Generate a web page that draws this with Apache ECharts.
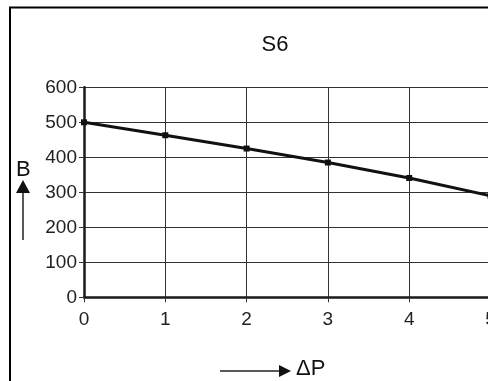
<!DOCTYPE html>
<html>
<head>
<meta charset="utf-8">
<script src="https://cdn.jsdelivr.net/npm/echarts@6/dist/echarts.min.js"></script>
<style>
  html, body { margin: 0; padding: 0; background: #fff; overflow: hidden; }
  #chart { width: 488px; height: 381px; }
</style>
</head>
<body>
<div id="chart"></div>
<script>
// Pressure difference ΔP against B for curve S6
const title = 'S6';
const deltaP = [0, 1, 2, 3, 4, 5];
const bValues = [500, 463, 425, 385, 341, 290];
const yTicks = [0, 100, 200, 300, 400, 500, 600];

const FONT = '"Liberation Sans", Arial, sans-serif';
const chart = echarts.init(document.getElementById('chart'), null, { renderer: 'canvas' });

chart.setOption({
  backgroundColor: '#fff',
  animation: false,
  title: {
    text: title,
    left: 270,
    top: 29,
    textAlign: 'center',
    textStyle: { fontFamily: FONT, fontSize: 22, fontWeight: 'normal', color: '#111' }
  },
  grid: {
    left: 84, top: 87.3, width: 406.5, height: 210,
    containLabel: false,
    outerBoundsMode: 'none'
  },
  xAxis: {
    type: 'value',
    min: 0, max: 5, interval: 1,
    axisLine: { show: true, onZero: false, lineStyle: { color: '#1a1a1a', width: 2.5 } },
    axisTick: { show: true, length: 5, lineStyle: { color: '#333', width: 1 } },
    axisLabel: { fontFamily: FONT, fontSize: 19, color: '#222', margin: 13, showMaxLabel: true },
    splitLine: { show: true, lineStyle: { color: '#333', width: 1 } }
  },
  yAxis: {
    type: 'value',
    min: yTicks[0], max: yTicks[yTicks.length - 1], interval: 100,
    axisLine: { show: true, onZero: false, lineStyle: { color: '#1a1a1a', width: 2.5 } },
    axisTick: { show: true, length: 5, lineStyle: { color: '#333', width: 1 } },
    axisLabel: { fontFamily: FONT, fontSize: 19, color: '#222', margin: 7 },
    splitLine: { show: true, lineStyle: { color: '#333', width: 1 } }
  },
  series: [{
    type: 'line',
    data: deltaP.map((x, i) => [x, bValues[i]]),
    symbol: 'rect',
    symbolSize: 6,
    clip: false,
    lineStyle: { color: '#111', width: 3 },
    itemStyle: { color: '#111' }
  }],
  graphic: [
    // outer frame: left and top edges
    { type: 'polyline', shape: { points: [[10, 390], [10, 7.5], [500, 7.5]] },
      style: { fill: null, stroke: '#000', lineWidth: 2 }, z: 10 },
    // y-axis name with upward arrow
    { type: 'text', left: 16, top: 159,
      style: { text: 'B', font: '22px ' + FONT, fill: '#111' } },
    { type: 'line', shape: { x1: 23, y1: 240, x2: 23, y2: 190 },
      style: { stroke: '#222', lineWidth: 1.5 } },
    { type: 'polygon', shape: { points: [[23, 180], [16, 193], [30, 193]] },
      style: { fill: '#111' } },
    // x-axis name with rightward arrow
    { type: 'line', shape: { x1: 220, y1: 371, x2: 281, y2: 371 },
      style: { stroke: '#222', lineWidth: 1.5 } },
    { type: 'polygon', shape: { points: [[291, 371], [279, 365], [279, 377]] },
      style: { fill: '#111' } },
    { type: 'text', left: 296, top: 358,
      style: { text: 'ΔP', font: '22px ' + FONT, fill: '#111' } }
  ]
});
</script>
</body>
</html>
